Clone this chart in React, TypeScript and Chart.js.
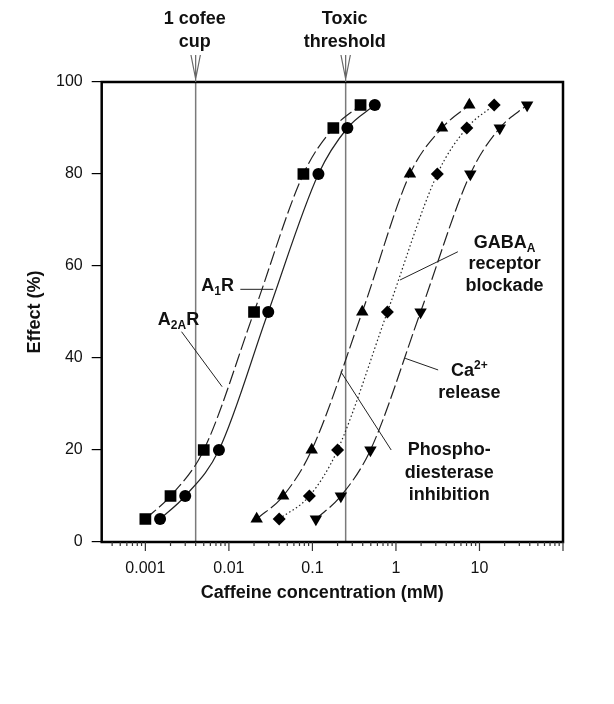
import { useEffect, useRef } from 'react';
import { Chart, registerables } from 'chart.js';

Chart.register(...registerables);

// ---------- data ----------
const a2aConc = [0.001, 0.002, 0.005, 0.02, 0.078, 0.178, 0.377];
const a2aEffect = [5, 10, 20, 50, 80, 90, 95];

const a1Conc = [0.0015, 0.003, 0.0076, 0.0296, 0.118, 0.262, 0.558];
const a1Effect = [5, 10, 20, 50, 80, 90, 95];

const pdeConc = [0.0215, 0.0446, 0.098, 0.395, 1.47, 3.56, 7.56];
const pdeEffect = [5, 10, 20, 50, 80, 90, 95];

const gabaConc = [0.04, 0.092, 0.2, 0.79, 3.13, 7.05, 15];
const gabaEffect = [5, 10, 20, 50, 80, 90, 95];

const caConc = [0.11, 0.219, 0.495, 1.97, 7.77, 17.5, 37.2];
const caEffect = [5, 10, 20, 50, 80, 90, 95];

const xMajorTicks = [0.001, 0.01, 0.1, 1, 10];
const xTickLabels = ['0.001', '0.01', '0.1', '1', '10'];
const yTicks = [0, 20, 40, 60, 80, 100];

const xTitle = 'Caffeine concentration (mM)';
const yTitle = 'Effect (%)';

const refLineConc = [0.004, 0.25];
const refLineLabels = [
  ['1 cofee', 'cup'],
  ['Toxic', 'threshold'],
];

const X_MIN = 0.000345;
const X_MAX = 100;

const FONT = 'Arial, "Liberation Sans", Helvetica, sans-serif';

type Run = { t: string; s?: 'sub' | 'sup' };
type Anno = { x: number; y: number; align: 'left' | 'center'; runs: Run[] };

const annoLabels: Anno[] = [
  { x: 0.00468, y: 54.57, align: 'left', runs: [{ t: 'A' }, { t: '1', s: 'sub' }, { t: 'R' }] },
  { x: 0.00141, y: 47.17, align: 'left', runs: [{ t: 'A' }, { t: '2A', s: 'sub' }, { t: 'R' }] },
  { x: 20.0, y: 64.02, align: 'center', runs: [{ t: 'GABA' }, { t: 'A', s: 'sub' }] },
  { x: 20.0, y: 59.35, align: 'center', runs: [{ t: 'receptor' }] },
  { x: 20.0, y: 54.67, align: 'center', runs: [{ t: 'blockade' }] },
  { x: 7.57, y: 36.09, align: 'center', runs: [{ t: 'Ca' }, { t: '2+', s: 'sup' }] },
  { x: 7.57, y: 31.41, align: 'center', runs: [{ t: 'release' }] },
  { x: 4.35, y: 18.91, align: 'center', runs: [{ t: 'Phospho-' }] },
  { x: 4.35, y: 14.02, align: 'center', runs: [{ t: 'diesterase' }] },
  { x: 4.35, y: 9.13, align: 'center', runs: [{ t: 'inhibition' }] },
];

// leader lines [x1, y1, x2, y2] in data units
const leaders = [
  [0.0137, 54.93, 0.034, 54.93],
  [0.00271, 45.72, 0.0083, 33.76],
  [5.51, 63.1, 1.12, 56.96],
  [3.2, 37.4, 1.29, 39.93],
  [0.219, 37.02, 0.877, 20.0],
];

function buildXTicks() {
  const vals: { value: number; major: boolean }[] = [];
  for (let k = -4; k <= 2; k++) {
    for (let m = 1; m <= 9; m++) {
      const v = m * Math.pow(10, k);
      if (v >= X_MIN * 0.999 && v <= X_MAX * 1.001) vals.push({ value: v, major: m === 1 });
    }
  }
  return vals;
}

function pts(xs: number[], ys: number[]) {
  return xs.map((x, i) => ({ x, y: ys[i] }));
}

function drawRuns(ctx: CanvasRenderingContext2D, runs: Run[], x: number, y: number, align: 'left' | 'center') {
  const fontFor = (r: Run) => (r.s ? `bold 12px ${FONT}` : `bold 18px ${FONT}`);
  let total = 0;
  for (const r of runs) {
    ctx.font = fontFor(r);
    total += ctx.measureText(r.t).width;
  }
  let cx = align === 'center' ? x - total / 2 : x;
  ctx.textAlign = 'left';
  ctx.textBaseline = 'alphabetic';
  for (const r of runs) {
    ctx.font = fontFor(r);
    const dy = r.s === 'sub' ? 4 : r.s === 'sup' ? -7 : 0;
    ctx.fillText(r.t, cx, y + dy);
    cx += ctx.measureText(r.t).width;
  }
}

const annotatePlugin = {
  id: 'annotate',
  beforeDatasetsDraw(chart: any) {
    const { ctx, chartArea } = chart;
    const xs = chart.scales.x;
    ctx.save();
    ctx.strokeStyle = '#7a7a7a';
    ctx.lineWidth = 1.5;
    for (const c of refLineConc) {
      const px = xs.getPixelForValue(c);
      ctx.beginPath();
      ctx.moveTo(px, chartArea.top);
      ctx.lineTo(px, chartArea.bottom);
      ctx.stroke();
    }
    ctx.restore();
  },
  afterDraw(chart: any) {
    const { ctx, chartArea } = chart;
    const xs = chart.scales.x;
    const ys = chart.scales.y;
    ctx.save();

    // leader lines
    ctx.strokeStyle = '#222';
    ctx.lineWidth = 1;
    for (const [x1, y1, x2, y2] of leaders) {
      ctx.beginPath();
      ctx.moveTo(xs.getPixelForValue(x1), ys.getPixelForValue(y1));
      ctx.lineTo(xs.getPixelForValue(x2), ys.getPixelForValue(y2));
      ctx.stroke();
    }

    // frame
    ctx.strokeStyle = '#000';
    ctx.lineWidth = 2.5;
    ctx.strokeRect(chartArea.left, chartArea.top, chartArea.right - chartArea.left, chartArea.bottom - chartArea.top);

    // x tick marks (major + minor)
    ctx.lineWidth = 1.2;
    ctx.strokeStyle = '#333';
    for (const t of xs.ticks) {
      const px = xs.getPixelForValue(t.value);
      const len = t.major ? 9 : 4;
      ctx.beginPath();
      ctx.moveTo(px, chartArea.bottom);
      ctx.lineTo(px, chartArea.bottom + len);
      ctx.stroke();
    }

    // x axis title (slightly left of centre, as in the reference)
    ctx.fillStyle = '#111';
    ctx.font = `bold 18px ${FONT}`;
    ctx.textAlign = 'center';
    ctx.textBaseline = 'alphabetic';
    ctx.fillText(xTitle, (chartArea.left + chartArea.right) / 2 - 10, chartArea.bottom + 56);

    // arrows and labels above reference lines
    ctx.strokeStyle = '#666';
    ctx.lineWidth = 1.2;
    refLineConc.forEach((c, i) => {
      const px = xs.getPixelForValue(c);
      const top = chartArea.top;
      ctx.beginPath();
      ctx.moveTo(px, top - 27);
      ctx.lineTo(px, top);
      ctx.moveTo(px - 4.7, top - 27);
      ctx.lineTo(px, top - 3);
      ctx.lineTo(px + 4.7, top - 27);
      ctx.stroke();
      ctx.font = `bold 18px ${FONT}`;
      ctx.textAlign = 'center';
      ctx.textBaseline = 'alphabetic';
      ctx.fillText(refLineLabels[i][0], px - 1, top - 58.5);
      ctx.fillText(refLineLabels[i][1], px - 1, top - 35.5);
    });

    // curve labels
    for (const a of annoLabels) {
      drawRuns(ctx, a.runs, xs.getPixelForValue(a.x), ys.getPixelForValue(a.y), a.align);
    }
    ctx.restore();
  },
};

export default function App() {
  const ref = useRef<HTMLCanvasElement | null>(null);

  useEffect(() => {
    document.body.style.margin = '0';
    const canvas = ref.current;
    if (!canvas) return;
    const lineColor = '#222';
    const common = {
      showLine: true,
      borderColor: lineColor,
      borderWidth: 1.2,
      pointBackgroundColor: '#000',
      pointBorderColor: '#000',
      pointBorderWidth: 0,
      cubicInterpolationMode: 'monotone' as const,
      fill: false,
    };
    const chart = new Chart(canvas, {
      type: 'scatter',
      data: {
        datasets: [
          { ...common, label: 'A2AR', data: pts(a2aConc, a2aEffect), borderDash: [14, 4], pointStyle: 'rect', pointRadius: 8.3 },
          { ...common, label: 'A1R', data: pts(a1Conc, a1Effect), pointStyle: 'circle', pointRadius: 6 },
          { ...common, label: 'Phosphodiesterase inhibition', data: pts(pdeConc, pdeEffect), borderDash: [14, 4], pointStyle: 'triangle', pointRadius: 7.2 },
          { ...common, label: 'GABAA receptor blockade', data: pts(gabaConc, gabaEffect), borderDash: [1.5, 2.5], pointStyle: 'rectRot', pointRadius: 6.5 },
          { ...common, label: 'Ca2+ release', data: pts(caConc, caEffect), borderDash: [14, 4], pointStyle: 'triangle', pointRotation: 180, pointRadius: 7.2 },
        ],
      },
      options: {
        responsive: false,
        animation: false,
        devicePixelRatio: 1,
        layout: { padding: { top: 82, right: 51, bottom: 0, left: 0 } },
        plugins: { legend: { display: false }, tooltip: { enabled: false } },
        scales: {
          x: {
            type: 'logarithmic',
            min: X_MIN,
            max: X_MAX,
            afterBuildTicks: (scale: any) => {
              scale.ticks = buildXTicks();
            },
            afterFit: (scale: any) => {
              scale.height = 162;
            },
            grid: { display: false, drawTicks: false },
            border: { display: false },
            ticks: {
              autoSkip: false,
              maxRotation: 0,
              padding: 17,
              color: '#111',
              font: { family: FONT, size: 16 },
              callback: (v: any) => {
                const val = Number(v);
                const idx = xMajorTicks.findIndex((m) => Math.abs(val - m) / m < 1e-6);
                return idx >= 0 ? xTickLabels[idx] : '';
              },
            },
            title: { display: false, text: xTitle },
          },
          y: {
            min: 0,
            max: 100,
            afterBuildTicks: (scale: any) => {
              scale.ticks = yTicks.map((v) => ({ value: v }));
            },
            afterFit: (scale: any) => {
              scale.width = 101.7;
            },
            grid: { drawOnChartArea: false, drawTicks: true, tickLength: 10, color: '#000', lineWidth: 1.2 },
            border: { display: false },
            ticks: {
              padding: 9,
              color: '#111',
              font: { family: FONT, size: 16 },
            },
            title: {
              display: true,
              text: yTitle,
              color: '#111',
              font: { family: FONT, size: 18, weight: 'bold' },
              padding: { top: 24, bottom: 0 },
            },
          },
        },
      },
      plugins: [annotatePlugin],
    } as any);
    return () => chart.destroy();
  }, []);

  return (
    <div style={{ width: 614, height: 704 }}>
      <canvas ref={ref} width={614} height={704} style={{ display: 'block' }} />
    </div>
  );
}
